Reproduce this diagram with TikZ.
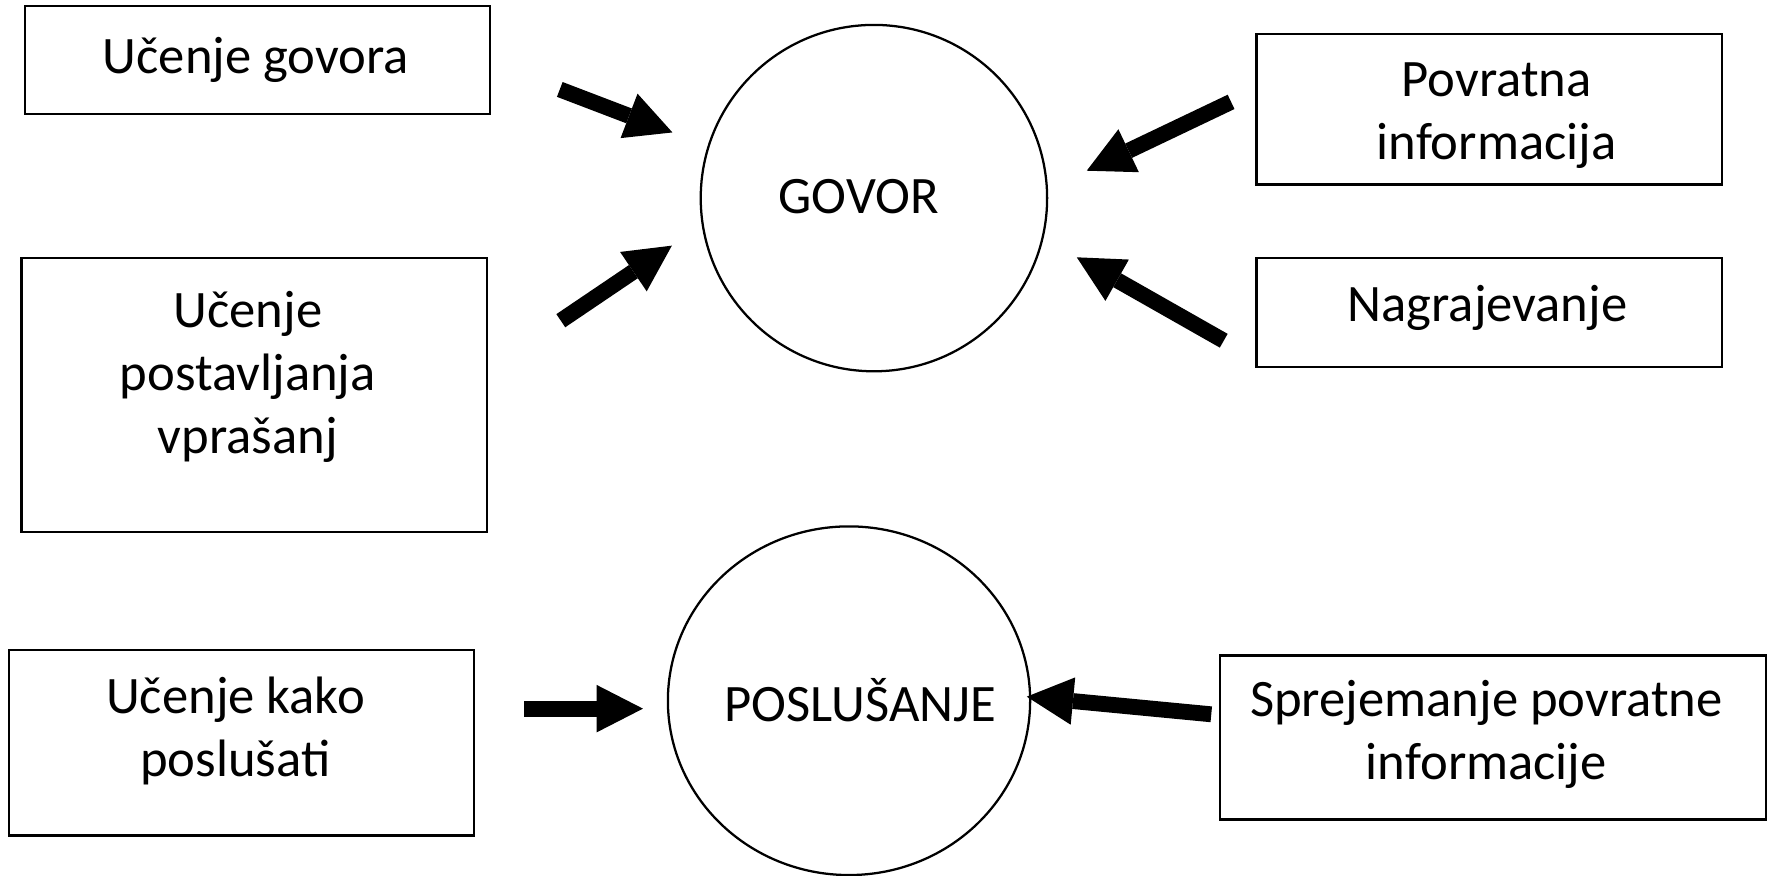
\documentclass[tikz,border=0pt]{standalone}
\usepackage{fontspec}
\setmainfont{Carlito}
\usetikzlibrary{arrows.meta,shapes.geometric}
\tikzset{
  frame/.style={draw, line width=2pt, inner sep=0pt, outer sep=0pt},
  txt/.style={inner sep=0pt, align=center, anchor=base, font=\fontsize{46.5}{56}\selectfont},
  blockarrow/.style={line width=14pt, -{Triangle[width=42pt,length=41pt,line width=0pt]}},
}
\begin{document}
\begin{tikzpicture}[x=1pt,y=-1pt]
\useasboundingbox (0,0) rectangle (1568,773);
% boxes
\node[frame, minimum width=411pt, minimum height=96pt]  (b1) at (227.5,53) {};
\node[frame, minimum width=411pt, minimum height=242pt] (b2) at (224.5,349) {};
\node[frame, minimum width=411pt, minimum height=133pt] (b3) at (1315.5,96.5) {};
\node[frame, minimum width=411pt, minimum height=96pt]  (b4) at (1315.5,276) {};
\node[frame, minimum width=411pt, minimum height=164pt] (b5) at (213.5,656) {};
\node[frame, minimum width=482pt, minimum height=145pt] (b6) at (1319,651.5) {};
% circles
\node[frame, circle, minimum size=306pt] (govor) at (772,175) {};
\node[frame, ellipse, minimum width=320pt, minimum height=308pt] (poslusanje) at (750,619) {};
% texts (base = baseline of the last line)
\node[txt] (t1) at (226,65) {Učenje govora};
\node[txt] (t2) at (219,401) {Učenje\\postavljanja\\vprašanj};
\node[txt] (t3) at (1322,141) {Povratna\\informacija};
\node[txt] (t4) at (1314,284) {Nagrajevanje};
\node[txt] (t5) at (208,686) {Učenje kako\\poslušati};
\node[txt] (t6) at (1313,689) {Sprejemanje povratne\\informacije};
\node[txt] (tg) at (758.5,189) {GOVOR};
\node[txt] (tp) at (760,637) {POSLUŠANJE};
% arrow ends
\coordinate (a1s) at (494.5,79);   \coordinate (a1e) at (594,117);
\coordinate (a2s) at (495.4,283.3); \coordinate (a2e) at (593.5,217);
\coordinate (a3s) at (1087.5,90);  \coordinate (a3e) at (960,150.8);
\coordinate (a4s) at (1081,301);   \coordinate (a4e) at (951.2,227.3);
\coordinate (a5s) at (463,626);    \coordinate (a5e) at (568,626);
\coordinate (a6s) at (1070,631);   \coordinate (a6e) at (907,615.4);
\draw[blockarrow] (a1s) -- (a1e);
\draw[blockarrow] (a2s) -- (a2e);
\draw[blockarrow] (a3s) -- (a3e);
\draw[blockarrow] (a4s) -- (a4e);
\draw[blockarrow] (a5s) -- (a5e);
\draw[blockarrow] (a6s) -- (a6e);
\end{tikzpicture}
\end{document}
